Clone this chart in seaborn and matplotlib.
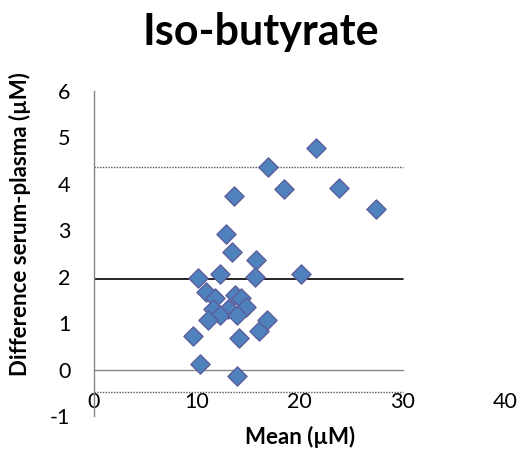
import matplotlib
matplotlib.use("Agg")
import matplotlib.pyplot as plt
import seaborn as sns
import pandas as pd

# values (Bland-Altman, serum vs plasma)
mean_um = [21.6, 16.9, 18.5, 23.8, 27.4, 13.6, 12.8, 13.4, 15.7, 15.6,
           20.1, 10.1, 12.2, 10.9, 11.8, 13.7, 14.3, 14.8, 13.0, 11.6,
           12.2, 13.9, 11.1, 9.6, 14.1, 16.0, 16.8, 10.3, 13.9]
diff_um = [4.76, 4.35, 3.88, 3.90, 3.45, 3.74, 2.91, 2.52, 2.36, 2.00,
           2.05, 1.98, 2.06, 1.67, 1.53, 1.60, 1.53, 1.35, 1.31, 1.31,
           1.17, 1.17, 1.06, 0.72, 0.67, 0.83, 1.06, 0.12, -0.15]
mean_diff = 1.95
upper_loa = 4.36
lower_loa = -0.49
line_x = [0, 30]
x_ticks = [0, 10, 20, 30, 40]
y_ticks = [-1, 0, 1, 2, 3, 4, 5, 6]

sns.set_style("white")
plt.rcParams['font.family'] = ['Lato', 'DejaVu Sans']
plt.rcParams['axes.unicode_minus'] = False
plt.rcParams['text.color'] = 'black'
plt.rcParams['axes.labelcolor'] = 'black'
plt.rcParams['xtick.color'] = 'black'
plt.rcParams['ytick.color'] = 'black'

df = pd.DataFrame({"mean": mean_um, "diff": diff_um})

fig = plt.figure(figsize=(5.24, 4.53), dpi=100)
ax = fig.add_axes([0.1794, 0.0817, 0.7855, 0.7181])

ax.plot(line_x, [upper_loa] * 2, color="#555555", lw=1.0, ls=(0, (1, 1)), zorder=1)
ax.plot(line_x, [lower_loa] * 2, color="#555555", lw=1.0, ls=(0, (1, 1)), zorder=1)
ax.plot(line_x, [mean_diff] * 2, color="black", lw=1.2, zorder=1)

sns.scatterplot(data=df, x="mean", y="diff", marker="D", s=95,
                color="#4F81BD", edgecolor="#5B5E9C", linewidth=1.0,
                ax=ax, zorder=3, legend=False)

ax.set_xlim(0, 40)
ax.set_ylim(-1, 6)
ax.set_xticks(x_ticks)
ax.set_yticks(y_ticks)

for side in ["top", "right"]:
    ax.spines[side].set_visible(False)
ax.spines["bottom"].set_position(("data", 0))
ax.spines["bottom"].set_bounds(0, 30)
ax.spines["left"].set_bounds(-1, 6)
for side in ["bottom", "left"]:
    ax.spines[side].set_color("#868686")
    ax.spines[side].set_linewidth(1.0)

ax.tick_params(axis="y", direction="out", length=6, width=1, color="#868686",
               labelcolor="black", pad=11, labelsize=15.5)
ax.tick_params(axis="x", direction="out", length=4, width=1, color="#868686",
               labelcolor="black", pad=12, labelsize=15.5)
ax.xaxis.get_major_ticks()[0].tick1line.set_visible(False)
ax.xaxis.get_major_ticks()[-1].tick1line.set_visible(False)

ax.set_xlabel("Mean (µM)", fontsize=16, fontweight="bold")
ax.xaxis.label.set_va("center")
ax.xaxis.set_label_coords(0.5, -0.065)
ax.set_ylabel("Difference serum-plasma (µM)", fontsize=16, fontweight="bold")
ax.yaxis.label.set_va("center")
ax.yaxis.set_label_coords(-0.18, 0.59)

fig.text(0.498, 0.93, "Iso-butyrate", ha="center", va="center",
         fontsize=31, fontweight="bold")

fig.savefig("out.png", dpi=100)
